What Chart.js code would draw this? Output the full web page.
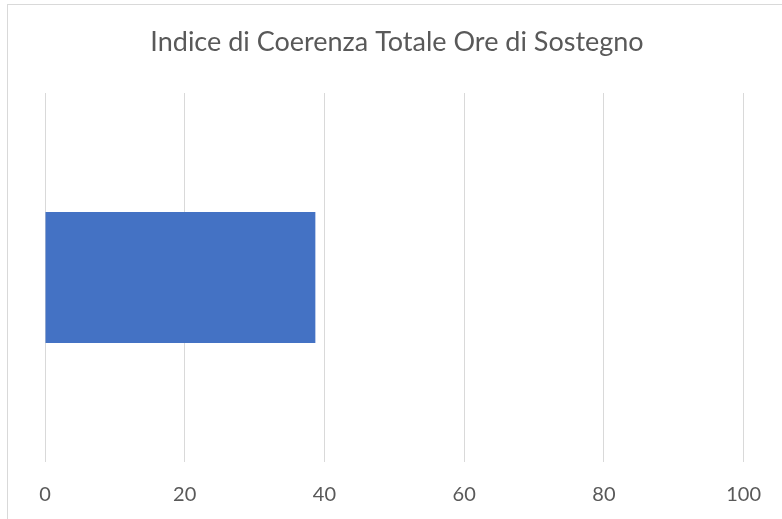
<!DOCTYPE html>
<html>
<head>
<meta charset="utf-8">
<script src="https://cdn.jsdelivr.net/npm/chart.js@4"></script>
<style>
  body { margin: 0; background: #fff; overflow: hidden; }
  #frame { position: absolute; left: 7px; top: 4px; width: 800px; height: 540px; border: 1px solid #d9d9d9; }
  #wrap { position: absolute; left: 0; top: 0; width: 782px; height: 519px; }
</style>
</head>
<body>
<div id="frame"></div>
<div id="wrap"><canvas id="myChart"></canvas></div>
<script>
// data
const categories = ['Totale'];
const values = [38.7];
const xTicks = [0, 20, 40, 60, 80, 100];

const ctx = document.getElementById('myChart');

const bar = new Chart(ctx, {
  type: 'bar',
  data: {
    labels: categories,
    datasets: [{
      label: 'Indice di Coerenza',
      data: values,
      backgroundColor: '#4472c4',
      borderWidth: 0,
      categoryPercentage: 1,
      barPercentage: 0.355
    }]
  },
  options: {
    indexAxis: 'y',
    responsive: true,
    maintainAspectRatio: false,
    animation: false,
    layout: { padding: { top: 2, left: 45, right: 33, bottom: 0 } },
    plugins: {
      legend: { display: false },
      tooltip: { enabled: false },
      title: {
        display: true,
        text: 'Indice di Coerenza Totale Ore di Sostegno',
        color: '#595959',
        font: { family: 'Lato', size: 27, weight: 'normal', lineHeight: 1.2 },
        padding: { top: 24, bottom: 34.6 }
      }
    },
    scales: {
      x: {
        min: xTicks[0],
        max: xTicks[xTicks.length - 1],
        afterBuildTicks: axis => { axis.ticks = xTicks.map(v => ({ value: v })); },
        afterFit: axis => { axis.height = 57; },
        grid: { color: '#d9d9d9', lineWidth: 1, drawTicks: false },
        border: { display: false },
        ticks: { color: '#595959', padding: 21, font: { family: 'Lato', size: 20 } }
      },
      y: { display: false }
    }
  }
});
</script>
</body>
</html>
